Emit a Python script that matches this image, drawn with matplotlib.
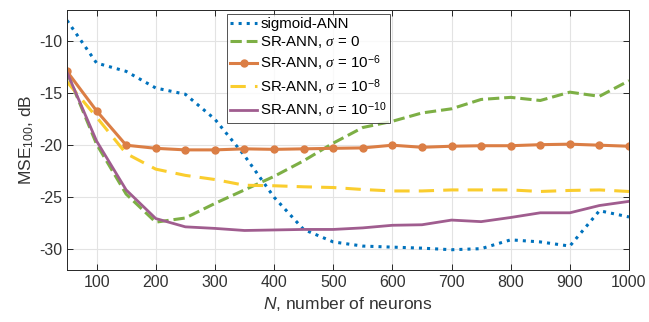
import numpy as np
import matplotlib
matplotlib.use("Agg")
import matplotlib.pyplot as plt

plt.rcParams['font.family'] = ['Liberation Sans', 'DejaVu Sans']
plt.rcParams['mathtext.fontset'] = 'custom'
plt.rcParams['mathtext.rm'] = 'Liberation Sans'
plt.rcParams['mathtext.it'] = 'Liberation Serif:italic'
plt.rcParams['mathtext.sf'] = 'Liberation Sans:italic'
plt.rcParams['axes.unicode_minus'] = False

n_neurons = [50, 100, 150, 200, 250, 300, 350, 400, 450, 500,
             550, 600, 650, 700, 750, 800, 850, 900, 950, 1000]

sigmoid = [-8.0, -12.1, -12.9, -14.5, -15.1, -17.5, -21.0, -25.0, -28.1, -29.3,
           -29.7, -29.8, -29.9, -30.05, -29.95, -29.1, -29.3, -29.7, -26.3, -26.9]
sr_0 = [-13.0, -19.9, -24.7, -27.4, -27.0, -25.6, -24.3, -23.0, -21.5, -19.8,
        -18.3, -17.7, -16.9, -16.5, -15.6, -15.4, -15.7, -14.9, -15.3, -13.8]
sr_6 = [-12.9, -16.7, -20.0, -20.3, -20.45, -20.45, -20.35, -20.4, -20.35, -20.3,
        -20.26, -20.0, -20.2, -20.1, -20.05, -20.05, -19.95, -19.9, -20.0, -20.1]
sr_8 = [-13.9, -17.3, -20.8, -22.3, -22.9, -23.3, -23.85, -23.9, -24.0, -24.07,
        -24.26, -24.4, -24.4, -24.3, -24.3, -24.3, -24.45, -24.35, -24.3, -24.45]
sr_10 = [-13.0, -19.6, -24.3, -27.05, -27.85, -28.0, -28.2, -28.15, -28.1, -28.1,
         -27.95, -27.7, -27.65, -27.2, -27.35, -26.95, -26.5, -26.5, -25.8, -25.4]

fig = plt.figure(figsize=(6.49, 3.22), dpi=100)
ax = fig.add_axes([67/649, 1-270/322, 562/649, 260/322])

ax.plot(n_neurons, sigmoid, ':', color='#0072BD', lw=2.2, label='sigmoid-ANN')
ax.plot(n_neurons, sr_0, '--', color='#7DAF45', lw=2.2, label=r'SR-ANN, $\sigma$ = 0')
ax.plot(n_neurons, sr_6, '-o', color='#DB7E45', lw=2.2, ms=5,
        label=r'SR-ANN, $\sigma$ = 10$^{-6}$')
ax.plot(n_neurons, sr_8, '--', color='#FACD2E', lw=2.2, dashes=(5, 3),
        label=r'SR-ANN, $\sigma$ = 10$^{-8}$')
ax.plot(n_neurons, sr_10, '-', color='#A05D8F', lw=2.0,
        label=r'SR-ANN, $\sigma$ = 10$^{-10}$')

ax.set_xlim(50, 1000)
ax.set_ylim(-32, -7)
ax.set_xticks(range(100, 1001, 100))
ax.set_yticks([-30, -25, -20, -15, -10])
ax.grid(True, color='#e3e3e3', lw=0.8)
ax.set_axisbelow(True)
ax.tick_params(direction='in', top=True, right=True, labelsize=11.5,
               colors='#262626', length=4, width=0.7, labelcolor='#333333')
for s in ax.spines.values():
    s.set_color('#262626')
    s.set_linewidth(0.7)

ax.set_xlabel(r'$\mathsf{N}$, number of neurons', fontsize=12.5, color='#333333', labelpad=4)
ax.set_ylabel(r'MSE$_{100}$, dB', fontsize=12.5, color='#333333', labelpad=2)

leg = ax.legend(loc='upper left', bbox_to_anchor=(0.285, 0.985), fontsize=10.8,
                frameon=True, fancybox=False, edgecolor='#262626',
                handlelength=1.8, handletextpad=0.2, borderpad=0.2,
                labelspacing=0.22, borderaxespad=0)
leg.get_frame().set_linewidth(0.7)

fig.savefig('out.png', dpi=100)
